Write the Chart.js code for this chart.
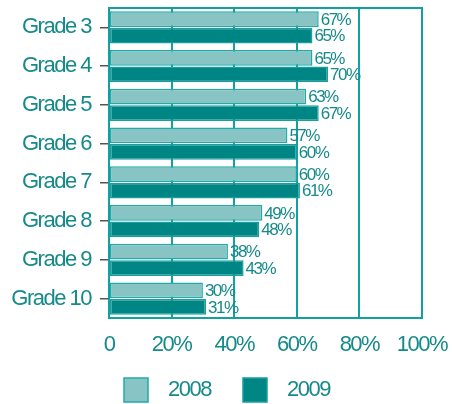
<!DOCTYPE html>
<html>
<head>
<meta charset="utf-8">
<script src="https://cdn.jsdelivr.net/npm/chart.js@4"></script>
<style>
  html, body { margin: 0; padding: 0; background: #fff; }
  #wrap { width: 452px; height: 404px; }
</style>
</head>
<body>
<div id="wrap"><canvas id="grades-chart" width="452" height="404"></canvas></div>
<script>
const grades = ['Grade 3', 'Grade 4', 'Grade 5', 'Grade 6', 'Grade 7', 'Grade 8', 'Grade 9', 'Grade 10'];
const values2008 = [67, 65, 63, 57, 60, 49, 38, 30];
const values2009 = [65, 70, 67, 60, 61, 48, 43, 31];
const xTickLabels = ['0', '20%', '40%', '60%', '80%', '100%'];

const TEAL = '#13a0a0';
const TEXT = '#168a8a';
const FONT = '"Liberation Sans", Arial, sans-serif';
const TRACKING = '-1.5px';

// the source uses tightly tracked text
const tightText = {
  id: 'tightText',
  beforeUpdate(chart) { chart.ctx.letterSpacing = TRACKING; },
  beforeDraw(chart) { chart.ctx.letterSpacing = TRACKING; },
};

// value labels next to each bar end
const valueLabels = {
  id: 'valueLabels',
  afterDatasetsDraw(chart) {
    const ctx = chart.ctx;
    ctx.save();
    ctx.font = '17px ' + FONT;
    ctx.fillStyle = TEXT;
    ctx.textAlign = 'left';
    ctx.textBaseline = 'middle';
    chart.data.datasets.forEach((ds, i) => {
      chart.getDatasetMeta(i).data.forEach((bar, j) => {
        ctx.fillText(ds.data[j] + '%', bar.x + 2, bar.y + 1);
      });
    });
    ctx.restore();
  },
};

// frame around plot + legend at bottom
const frameAndLegend = {
  id: 'frameAndLegend',
  afterDraw(chart) {
    const ctx = chart.ctx;
    const a = chart.chartArea;
    ctx.save();
    ctx.strokeStyle = TEAL;
    ctx.lineWidth = 2;
    ctx.beginPath();
    ctx.moveTo(a.left, a.top);
    ctx.lineTo(a.right, a.top);
    ctx.lineTo(a.right, a.bottom);
    ctx.stroke();

    const starts = [124, 243];
    ctx.font = '22px ' + FONT;
    ctx.textBaseline = 'middle';
    chart.data.datasets.forEach((ds, i) => {
      const x = starts[i];
      ctx.fillStyle = ds.backgroundColor;
      ctx.fillRect(x, 378, 24, 24);
      ctx.strokeStyle = ds.borderColor;
      ctx.lineWidth = 1.5;
      ctx.strokeRect(x, 378, 24, 24);
      ctx.fillStyle = TEXT;
      ctx.fillText(ds.label, x + 44, 390);
    });
    ctx.restore();
  },
};

new Chart(document.getElementById('grades-chart'), {
  type: 'bar',
  data: {
    labels: grades,
    datasets: [
      {
        label: '2008',
        data: values2008,
        backgroundColor: '#89c4c4',
        borderColor: '#22aaaa',
        borderWidth: 1.5,
        borderSkipped: false,
        categoryPercentage: 0.85,
        barPercentage: 0.96,
      },
      {
        label: '2009',
        data: values2009,
        backgroundColor: '#008585',
        borderColor: '#1a9e9e',
        borderWidth: 1.5,
        borderSkipped: false,
        categoryPercentage: 0.85,
        barPercentage: 0.96,
      },
    ],
  },
  options: {
    indexAxis: 'y',
    responsive: false,
    animation: false,
    layout: { padding: { top: 8, right: 30, left: 0, bottom: 0 } },
    plugins: {
      legend: { display: false },
      tooltip: { enabled: false },
    },
    scales: {
      x: {
        min: 0,
        max: 100,
        ticks: {
          stepSize: 20,
          color: TEXT,
          font: { family: FONT, size: 22 },
          padding: 14,
          maxRotation: 0,
          callback: (v, i) => xTickLabels[i],
        },
        grid: { color: TEAL, lineWidth: 2, drawTicks: false },
        border: { color: TEAL, width: 2 },
        afterFit(scale) {
          scale.height = 86;
          scale.paddingLeft = 0;
          scale.paddingRight = 0;
        },
      },
      y: {
        ticks: {
          color: TEXT,
          font: { family: FONT, size: 22 },
          padding: 9,
        },
        grid: {
          offset: false,
          drawOnChartArea: false,
          tickLength: 9,
          tickColor: '#555',
          lineWidth: 1.5,
        },
        border: { color: TEAL, width: 2 },
        afterFit(scale) {
          scale.width = 109;
          scale.paddingTop = 0;
          scale.paddingBottom = 0;
        },
      },
    },
  },
  plugins: [tightText, valueLabels, frameAndLegend],
});
</script>
</body>
</html>
